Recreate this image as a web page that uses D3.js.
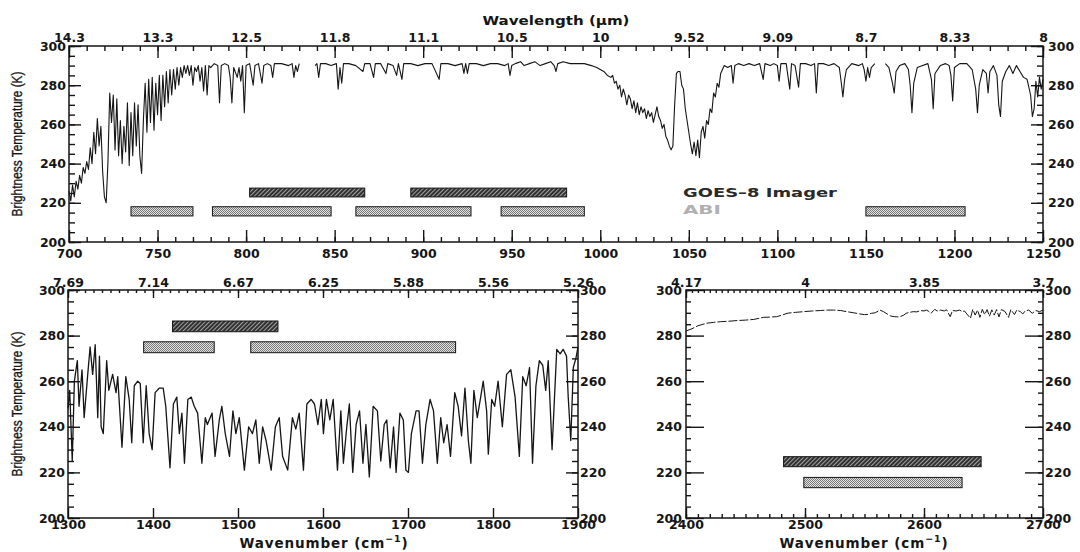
<!DOCTYPE html>
<html><head><meta charset="utf-8">
<script src="https://cdn.jsdelivr.net/npm/d3@7"></script>
<style>body{margin:0;background:#fff}svg{display:block}</style>
</head><body><svg id="c" width="1080" height="552"></svg>
<script>
// ---------------- data ----------------
const btTicks = [200,220,240,260,280,300];
const lwTicks = [700,750,800,850,900,950,1000,1050,1100,1150,1200,1250];
const lwWave = ["14.3","13.3","12.5","11.8","11.1","10.5","10","9.52","9.09","8.7","8.33","8"];
const wvTicks = [1300,1400,1500,1600,1700,1800,1900];
const wvWave = ["7.69","7.14","6.67","6.25","5.88","5.56","5.26"];
const swTicks = [2400,2500,2600,2700];
const swWave = ["4.17","4","3.85","3.7"];

const goesLW = [[802,867],[893,981]];
const abiLW = [[735,770],[781,848],[862,927],[944,991],[1150,1206]];
const goesWV = [[1423,1547]];
const abiWV = [[1389,1472],[1515,1756]];
const goesSW = [[2482,2648]];
const abiSW = [[2499,2632]];
const goesK_LW = [223,227.5], abiK_LW = [213.3,218];
const goesK_WV = [281.7,286.4], abiK_WV = [272.5,277.3];
const goesK_SW = [222.5,226.9], abiK_SW = [213.3,217.8];

const spectrumLW = [[700,226],[701,221],[702,229],[703,223],[704,231],[705,227],[706,234],[707,230],[708,238],[709,235],[710,241],[711,237],[712,248],[713,240],[714,256],[715,245],[716,263],[717,249],[718,259],[719,236],[720,223],[721,220],[722,241],[723,276],[724,261],[725,275],[726,247],[727,273],[728,244],[729,262],[730,240],[731,259],[732,246],[733,271],[734,239],[735,266],[736,244],[737,271],[738,249],[739,270],[740,244],[741,235],[742,262],[743,281],[744,256],[745,283],[746,261],[747,284],[748,257],[749,281],[750,265],[751,285],[752,262],[753,285],[754,269],[755,287],[756,271],[757,288],[758,275],[759,288],[760,278],[761,289],[762,280],[763,289],[764,284],[765,290],[766,286],[767,290],[768,285],[769,290],[770,280],[771,289],[772,287],[773,290],[774,282],[775,289],[776,277],[777,290],[778,275],[779,290],[780,289],[782,291],[784,290],[785,271],[786,290],[788,291],[790,290],[791,284],[792,271],[793,289],[795,284],[796,289],[797,282],[798,290],[799,266],[800,290],[802,291],[804,280],[805,290],[807,291],[809,281],[810,290],[812,291],[814,290],[815,284],[816,291],[820,291],[824,290],[826,291],[827,284],[828,290],[829,287],[830,291],[831,null],[838,null],[839,290],[840,291],[841,284],[842,291],[845,291],[848,290],[851,291],[852,278],[853,289],[854,281],[855,291],[858,291],[862,290],[866,287],[867,291],[870,291],[872,284],[873,291],[876,291],[879,286],[880,291],[883,290],[885,285],[886,291],[888,283],[889,291],[893,291],[897,290],[901,291],[905,291],[909,283],[910,291],[914,291],[918,290],[922,291],[923,286],[924,291],[925,286],[926,291],[930,291],[934,290],[938,291],[942,291],[946,290],[948,291],[949,285],[950,290],[952,291],[955,292],[957,290],[960,291],[963,292],[966,290],[969,291],[972,292],[974,290],[975,287],[976,291],[979,292],[983,291],[987,291],[991,291],[995,290],[998,289],[1000,288],[1002,287],[1004,285],[1006,284],[1007,285],[1008,281],[1009,282],[1010,278],[1011,280],[1012,274],[1013,278],[1014,275],[1015,270],[1016,275],[1017,273],[1018,268],[1019,272],[1020,266],[1021,271],[1022,265],[1023,269],[1024,266],[1025,268],[1026,263],[1027,267],[1028,264],[1029,266],[1030,261],[1031,265],[1032,269],[1033,264],[1034,262],[1035,258],[1036,260],[1037,254],[1038,252],[1039,249],[1040,247],[1041,249],[1042,270],[1043,286],[1044,287],[1045,287],[1046,280],[1047,278],[1048,268],[1049,262],[1050,256],[1051,250],[1052,245],[1053,251],[1054,244],[1055,252],[1056,243],[1057,256],[1058,259],[1059,253],[1060,262],[1061,260],[1062,268],[1063,266],[1064,276],[1065,274],[1066,281],[1067,279],[1068,286],[1069,288],[1070,290],[1072,289],[1074,290],[1075,281],[1076,290],[1078,291],[1081,290],[1084,291],[1087,290],[1090,291],[1092,283],[1093,291],[1096,290],[1098,291],[1100,290],[1101,282],[1102,291],[1105,291],[1107,278],[1108,291],[1110,290],[1112,279],[1113,291],[1116,291],[1119,290],[1121,291],[1122,276],[1123,291],[1126,291],[1129,290],[1132,291],[1135,289],[1136,282],[1137,274],[1138,283],[1139,288],[1142,291],[1146,290],[1148,291],[1149,288],[1150,282],[1151,289],[1152,284],[1153,289],[1155,291],[1156,null],[1160,null],[1161,291],[1163,289],[1165,281],[1166,276],[1167,287],[1169,290],[1172,291],[1174,288],[1175,280],[1176,266],[1177,281],[1179,289],[1182,290],[1185,291],[1187,283],[1188,268],[1189,286],[1192,290],[1195,291],[1197,290],[1198,285],[1199,272],[1200,289],[1203,291],[1207,291],[1210,288],[1212,278],[1213,266],[1214,280],[1216,288],[1218,286],[1219,276],[1220,287],[1222,290],[1224,285],[1225,270],[1226,264],[1227,282],[1229,287],[1231,290],[1233,286],[1235,290],[1237,287],[1239,284],[1241,283],[1243,275],[1244,264],[1245,268],[1246,282],[1247,274],[1248,284],[1249,278],[1250,283]];

const spectrumWV = [[1300,248],[1302,256],[1305,225],[1307.5,260],[1311,269],[1313,249],[1316.5,265],[1319,244],[1323,262],[1326,275],[1329,263],[1332,276],[1335,244],[1337,271],[1339,240],[1341.5,237],[1345.5,269],[1348,256],[1352.5,263],[1356.5,255],[1358.5,262],[1363.5,231],[1368,262],[1372,252],[1375,233],[1378,258],[1382,260],[1385,259],[1388.5,233],[1392,258],[1395.5,237],[1399,230],[1402.5,255],[1407.5,257],[1412,257],[1415,249],[1420,222],[1424,250],[1428,253],[1431,237],[1434,246],[1437,224],[1441,252],[1445,253],[1448.5,249],[1452.5,246],[1457.5,224],[1461.5,244],[1464,241],[1469.5,246],[1473,227],[1478,243],[1481,249],[1485,237],[1490,227],[1494,247],[1497.5,237],[1501.5,244],[1507.5,221],[1512.5,240],[1517,237],[1521,243],[1525,224],[1529,240],[1533,234],[1539,221],[1544,240],[1548.5,244],[1552.5,227],[1558.5,221],[1564,244],[1568,239],[1572,246],[1577,221],[1581,250],[1586,252],[1590,250],[1594,241],[1598,252],[1600.5,237],[1604,252],[1608,243],[1612,252],[1617,221],[1621,247],[1624,224],[1628,240],[1631,250],[1635,220],[1639,241],[1643,247],[1647,224],[1650.5,241],[1654.5,218],[1659,249],[1664,247],[1668,225],[1672,241],[1675,243],[1679,222],[1683,240],[1686,220],[1690.5,246],[1694.5,243],[1697.5,221],[1700.5,220],[1704,237],[1709.5,247],[1713,247],[1717,224],[1721,241],[1726,252],[1730,247],[1734.5,224],[1738.5,244],[1742,233],[1746,241],[1750,227],[1755,255],[1759,249],[1763,236],[1767,257],[1771,234],[1774,224],[1777.5,256],[1781.5,244],[1785.5,253],[1788.5,260],[1792.5,247],[1794.5,228],[1798.5,252],[1802,249],[1806,260],[1811,240],[1816,263],[1821,265],[1826,253],[1831,227],[1835,262],[1839,258],[1843,266],[1846.5,224],[1850.5,258],[1854.5,269],[1858.5,267],[1862,256],[1865,269],[1869.5,230],[1875,274],[1879,272],[1882.5,274],[1886.5,271],[1888.5,253],[1891.5,234],[1894.5,266],[1897.5,270],[1900,275]];

const spectrumSW = [[2400,282],[2405,283],[2410,284.3],[2417,285.4],[2423,285.8],[2429,286.1],[2436,286.3],[2443,286.6],[2450,286.8],[2457,287.1],[2465,288],[2470,288.1],[2476,288.3],[2481,289],[2485,289.8],[2492,290.2],[2499,290.5],[2506,290.8],[2513,291],[2519,291.2],[2524,291.2],[2530,291],[2535,290.5],[2541,290],[2546,289.5],[2550,289.2],[2553,289.3],[2556,289.8],[2559,290],[2563,291.2],[2566,290.5],[2569,289.5],[2572,288.6],[2575,288.3],[2578,288.2],[2580,288.3],[2583,289],[2585,289.8],[2588,290.2],[2591,290.5],[2594,290.4],[2597,291],[2600,290.8],[2602,291.2],[2604,290.6],[2606,289.8],[2608,291],[2609,291.5],[2611,290.8],[2614,291.2],[2617,290.8],[2619,291.3],[2622,288.3],[2624,291],[2627,290.8],[2630,291.2],[2632,290.5],[2634,290.8],[2636,289.5],[2639,287.6],[2641,291.5],[2643,289],[2645,291.2],[2647,288],[2649,291.5],[2651,289.2],[2653,291.4],[2655,288.5],[2657,291.3],[2659,289],[2661,291.4],[2663,288.2],[2665,291.4],[2668,290.6],[2671,288],[2673,291.4],[2676,289.2],[2678,291.2],[2681,290.5],[2683,289.5],[2685,290.8],[2688,291.2],[2691,289.8],[2694,291],[2697,290.5],[2700,291.2]];

// ---------------- drawing ----------------
const svg = d3.select("#c");
const defs = svg.append("defs");
const pg = defs.append("pattern").attr("id","goesPat").attr("patternUnits","userSpaceOnUse")
  .attr("width",3).attr("height",3).attr("patternTransform","rotate(45)");
pg.append("rect").attr("width",3).attr("height",3).attr("fill","#2b2b2b");
pg.append("rect").attr("width",1.1).attr("height",3).attr("fill","#a0a0a0");
const pa = defs.append("pattern").attr("id","abiPat").attr("patternUnits","userSpaceOnUse")
  .attr("width",2).attr("height",2);
pa.append("rect").attr("width",2).attr("height",2).attr("fill","#e2e2e2");
pa.append("rect").attr("width",1).attr("height",1).attr("fill","#7a7a7a");
pa.append("rect").attr("x",1).attr("y",1).attr("width",1).attr("height",1).attr("fill","#7a7a7a");

const FONT = "DejaVu Sans";
const INK = "#151515";

function styleAxis(sel, fs){
  sel.select(".domain").remove();
  sel.selectAll("line").attr("stroke",INK).attr("stroke-width",1.4);
  sel.attr("font-family",FONT).attr("font-size",fs).attr("font-weight","bold");
  sel.selectAll("text").attr("fill",INK);
}

function drawPanel(p){
  const x = d3.scaleLinear().domain(p.xDomain).range([p.left,p.right]);
  const y = d3.scaleLinear().domain([200,300]).range([p.bottom,p.top]);
  const g = svg.append("g");
  const bandRects = (data, k, pat) => g.append("g").selectAll("rect").data(data).join("rect")
    .attr("x",d=>x(d[0])).attr("width",d=>x(d[1])-x(d[0]))
    .attr("y",y(k[1])).attr("height",y(k[0])-y(k[1]))
    .attr("fill",pat).attr("stroke",INK).attr("stroke-width",1);
  bandRects(p.goes,p.goesK,"url(#goesPat)");
  bandRects(p.abi,p.abiK,"url(#abiPat)");

  const line = d3.line().defined(d=>d[1]!==null).x(d=>x(d[0])).y(d=>y(d[1]));
  g.append("path").datum(p.spectrum).attr("d",line).attr("fill","none")
    .attr("stroke",INK).attr("stroke-width",p.lw||1).attr("stroke-linejoin","round")
    .attr("stroke-dasharray",p.dash||null);

  const yMinor = d3.range(200,301,5);
  g.append("g").attr("transform",`translate(0,${p.bottom})`)
    .call(d3.axisBottom(x).tickValues(p.ticks).tickSize(-p.bMaj).tickPadding(p.bPad).tickFormat(d3.format("d")))
    .call(s=>styleAxis(s,p.fs));
  if(p.bMinStep) g.append("g").attr("transform",`translate(0,${p.bottom})`)
    .call(d3.axisBottom(x).tickValues(d3.range(p.xDomain[0],p.xDomain[1]+1,p.bMinStep)).tickSize(-p.bMin).tickFormat(""))
    .call(s=>styleAxis(s,p.fs));
  g.append("g").attr("transform",`translate(0,${p.top})`)
    .call(d3.axisTop(x).tickValues(p.ticks).tickSize(-p.tMaj).tickPadding(p.tPad).tickFormat((d,i)=>p.wave[i]))
    .call(s=>styleAxis(s,p.fs));
  g.append("g").attr("transform",`translate(0,${p.top})`)
    .call(d3.axisTop(x).tickValues(d3.range(p.xDomain[0],p.xDomain[1]+1,p.tMinStep)).tickSize(-p.tMin).tickFormat(""))
    .call(s=>styleAxis(s,p.fs));
  g.append("g").attr("transform",`translate(${p.left},0)`)
    .call(d3.axisLeft(y).tickValues(btTicks).tickSize(-p.yMaj).tickPadding(p.lPad).tickFormat(d3.format("d")))
    .call(s=>styleAxis(s,p.fs));
  g.append("g").attr("transform",`translate(${p.left},0)`)
    .call(d3.axisLeft(y).tickValues(yMinor).tickSize(-p.yMin).tickFormat(""))
    .call(s=>styleAxis(s,p.fs));
  g.append("g").attr("transform",`translate(${p.right},0)`)
    .call(d3.axisRight(y).tickValues(btTicks).tickSize(-p.yMaj).tickPadding(p.rPad).tickFormat(d3.format("d")))
    .call(s=>styleAxis(s,p.fs));
  g.append("g").attr("transform",`translate(${p.right},0)`)
    .call(d3.axisRight(y).tickValues(yMinor).tickSize(-p.yMin).tickFormat(""))
    .call(s=>styleAxis(s,p.fs));
  g.append("rect").attr("x",p.left).attr("y",p.top).attr("width",p.right-p.left).attr("height",p.bottom-p.top)
    .attr("fill","none").attr("stroke",INK).attr("stroke-width",1.5);
  return {x,y,g};
}

const pTop = drawPanel({xDomain:[700,1250],left:69,right:1043,top:46,bottom:242,
  ticks:lwTicks,wave:lwWave,spectrum:spectrumLW,goes:goesLW,abi:abiLW,goesK:goesK_LW,abiK:abiK_LW,
  bMaj:12,bMin:5,bMinStep:10,bPad:7,tMaj:12,tMin:5,tMinStep:10,tPad:4,yMaj:12,yMin:6,lPad:3,rPad:5,fs:12.5,lw:1.1});
const pWV = drawPanel({xDomain:[1300,1900],left:68,right:578,top:290,bottom:518,
  ticks:wvTicks,wave:wvWave,spectrum:spectrumWV,goes:goesWV,abi:abiWV,goesK:goesK_WV,abiK:abiK_WV,
  bMaj:10,bMin:0,bMinStep:0,bPad:2,tMaj:8,tMin:3,tMinStep:10,tPad:3,yMaj:12,yMin:6,lPad:3,rPad:2,fs:12.5,lw:1.3});
const pSW = drawPanel({xDomain:[2400,2700],left:686,right:1043,top:290,bottom:518,
  ticks:swTicks,wave:swWave,spectrum:spectrumSW,goes:goesSW,abi:abiSW,goesK:goesK_SW,abiK:abiK_SW,
  bMaj:10,bMin:4,bMinStep:10,bPad:2,tMaj:8,tMin:3,tMinStep:5,tPad:3,yMaj:18,yMin:5,lPad:4,rPad:2,fs:12.5,lw:1,dash:"9,2"});

svg.append("text").attr("x",556).attr("y",25).attr("text-anchor","middle")
  .attr("font-family",FONT).attr("font-weight","bold").attr("font-size",13)
  .attr("textLength",147).attr("lengthAdjust","spacingAndGlyphs").attr("fill",INK)
  .text("Wavelength (µm)");

function yTitle(cy){
  svg.append("text").attr("transform",`translate(22,${cy}) rotate(-90)`).attr("text-anchor","middle")
    .attr("font-family","Liberation Sans").attr("font-size",15)
    .attr("stroke",INK).attr("stroke-width",0.35)
    .attr("textLength",145).attr("lengthAdjust","spacingAndGlyphs").attr("fill",INK)
    .text("Brightness Temperature (K)");
}
yTitle(144); yTitle(404);

function xTitle(cx){
  const t = svg.append("text").attr("x",cx).attr("y",548).attr("text-anchor","middle")
    .attr("font-family",FONT).attr("font-weight","bold").attr("font-size",13.5)
    .attr("letter-spacing",0.9).attr("fill",INK);
  t.append("tspan").text("Wavenumber (cm");
  t.append("tspan").attr("font-size",9.5).attr("dy",-6).text("−1");
  t.append("tspan").attr("dy",6).text(")");
}
xTitle(324); xTitle(864);

svg.append("text").attr("x",pTop.x(1046.7)).attr("y",pTop.y(223)).attr("font-family",FONT)
  .attr("font-weight","bold").attr("font-size",12.5).attr("textLength",154).attr("lengthAdjust","spacingAndGlyphs")
  .attr("fill","#2a2a2a").text("GOES–8 Imager");
svg.append("text").attr("x",pTop.x(1046.7)).attr("y",pTop.y(214.3)).attr("font-family",FONT)
  .attr("font-weight","bold").attr("font-size",12.5).attr("textLength",38).attr("lengthAdjust","spacingAndGlyphs")
  .attr("fill","#b0b0b0").text("ABI");
</script>
</body></html>
